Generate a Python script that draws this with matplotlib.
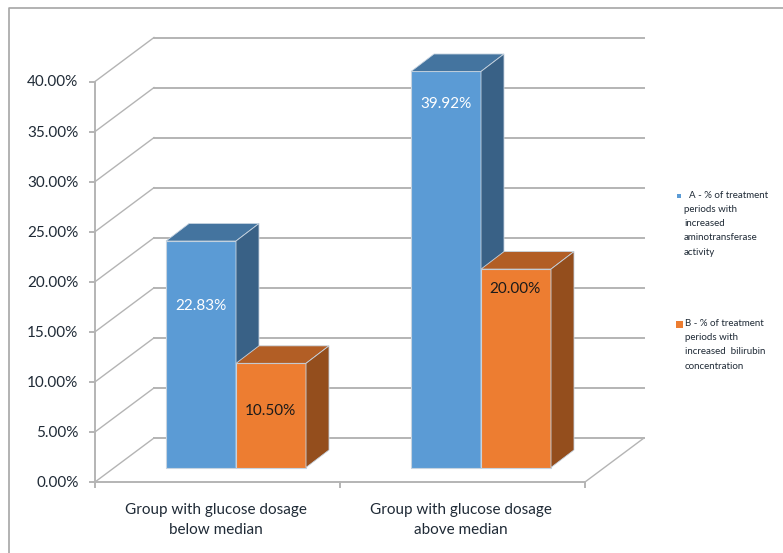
import matplotlib
matplotlib.use('Agg')
import matplotlib.pyplot as plt
from matplotlib.patches import Polygon

plt.rcParams['font.family'] = ['Lato', 'DejaVu Sans']

# Chart values
groups = ['Group with glucose dosage\nbelow median', 'Group with glucose dosage\nabove median']
seriesA = [22.83, 39.92]
seriesB = [10.50, 20.00]
valueLabelsA = ['22.83%', '39.92%']
valueLabelsB = ['10.50%', '20.00%']
ticks = [0, 5, 10, 15, 20, 25, 30, 35, 40]
legendA = ['A - % of treatment', 'periods with', 'increased', 'aminotransferase', 'activity']
legendB = ['B - % of treatment', 'periods with', 'increased  bilirubin', 'concentration']

# Box geometry in pixels
axisX, axisY0, axisY40 = 95, 482, 81.5
axisRight = 585
wallDX, wallDY = 59, -44
barBase = 467.5
barScale = 9.92
barDX, barDY = 23, -17.5
barW = 70
groupX = [166, 411]

gridCol = '#b4b4b4'
frontA, topA, sideA = '#5b9bd5', '#44749f', '#396186'
frontB, topB, sideB = '#ed7d31', '#b25e25', '#944e1d'


def tickY(v):
    return axisY0 + (axisY40 - axisY0) * v / 40.0


def drawBar(ax, x, value, front, top, side, z):
    yTop = barBase - value * barScale
    ax.add_patch(Polygon([(x, barBase), (x + barW, barBase), (x + barW, yTop), (x, yTop)],
                         fc=front, ec='#c6d3e0', lw=0.8, zorder=z))
    ax.add_patch(Polygon([(x, yTop), (x + barW, yTop), (x + barW + barDX, yTop + barDY), (x + barDX, yTop + barDY)],
                         fc=top, ec='#c6d3e0', lw=0.6, zorder=z))
    ax.add_patch(Polygon([(x + barW, barBase), (x + barW + barDX, barBase + barDY),
                          (x + barW + barDX, yTop + barDY), (x + barW, yTop)],
                         fc=side, ec='#c6d3e0', lw=0.6, zorder=z))
    return yTop


fig = plt.figure(figsize=(7.83, 5.53), dpi=100)
ax = fig.add_axes([0, 0, 1, 1])
ax.set_xlim(0, 783)
ax.set_ylim(553, 0)
ax.axis('off')

# Outer frame
ax.plot([9, 9, 783], [553, 8, 8], color='#a6a6a6', lw=1.2, zorder=1)

# Walls, floor and gridlines
for v in ticks:
    y = tickY(v)
    ax.plot([axisX, axisX + wallDX], [y, y + wallDY], color=gridCol, lw=1.0, zorder=2)
    ax.plot([axisX + wallDX, axisRight + wallDX], [y + wallDY, y + wallDY], color=gridCol, lw=1.4, zorder=2)
    ax.plot([axisX - 5, axisX], [y, y], color=gridCol, lw=1.4, zorder=2)
    ax.text(78.5, y + 1, '%.2f%%' % v, ha='right', va='center', fontsize=11, color='#1f2a36')
ax.plot([axisX, axisX], [axisY40, axisY0 + 5], color=gridCol, lw=1.4, zorder=2)
ax.plot([axisX, axisRight], [axisY0, axisY0], color=gridCol, lw=1.4, zorder=2)
ax.plot([axisRight, axisRight + wallDX], [axisY0, axisY0 + wallDY], color=gridCol, lw=1.0, zorder=2)
for x in [340, axisRight]:
    ax.plot([x, x], [axisY0, axisY0 + 5], color=gridCol, lw=1.4, zorder=2)

# Bars, left group first so nearer faces overlap correctly
for i, x in enumerate(groupX):
    yA = drawBar(ax, x, seriesA[i], frontA, topA, sideA, 3 + i)
    yB = drawBar(ax, x + barW, seriesB[i], frontB, topB, sideB, 3 + i)
    ax.text(x + barW / 2, yA + 33 if i else yA + 65, valueLabelsA[i], ha='center', va='center',
            fontsize=11, color='white', zorder=6)
    ax.text(x + barW * 1.5 - 1, yB + 20 if i else yB + 48, valueLabelsB[i], ha='center', va='center',
            fontsize=11, color='#1a1a1a', zorder=6)
    ax.text(x + barW + (-20 if i else -20), 520, groups[i], ha='center', va='center',
            fontsize=11, color='#1f2a36', linespacing=1.5)

# Legend
ax.add_patch(Polygon([(677, 194), (681, 194), (681, 198), (677, 198)], fc=frontA, ec='none'))
for i, line in enumerate(legendA):
    ax.text(684, 195 + i * 14.3, ('  ' if i == 0 else '') + line, va='center',
            fontsize=7, color='#1f2a36')
ax.add_patch(Polygon([(676, 321), (683, 321), (683, 328), (676, 328)], fc=frontB, ec='none'))
for i, line in enumerate(legendB):
    ax.text(685, 323 + i * 14.5, line, va='center', fontsize=7, color='#1f2a36')

fig.savefig('out.png', dpi=100)
